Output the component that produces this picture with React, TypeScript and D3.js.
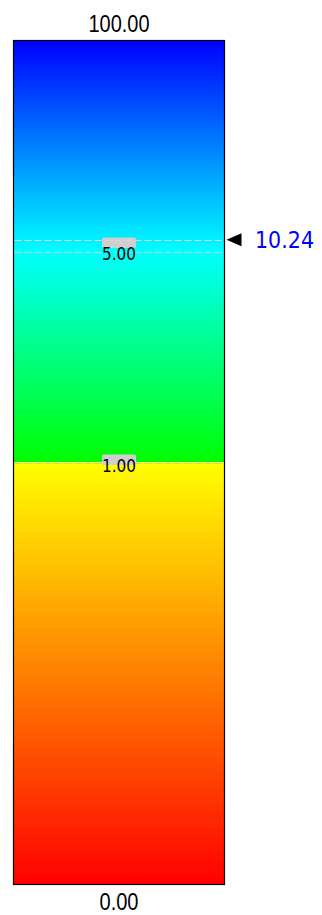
import React, { useEffect, useRef } from 'react';
import * as d3 from 'd3';

// break points of the colour scale (value -> band position)
const thresholds = [0, 1, 5, 100];
const thresholdLabels = ['0.00', '1.00', '5.00', '100.00'];
// colour at the bottom / top of each band
const bandColors: [string, string][] = [
  ['#ff0000', '#ffff00'],
  ['#00ff00', '#00ffff'],
  ['#00ffff', '#0000ff'],
];
const markerValue = 10.24;
const markerLabel = '10.24';

const ColorBar: React.FC = () => {
  const ref = useRef<SVGSVGElement | null>(null);

  useEffect(() => {
    if (!ref.current) return;
    const svg = d3.select(ref.current);
    svg.selectAll('*').remove();

    const barX = 13.5;
    const barW = 211;
    const top = 40.5;
    const bottom = 884.5;

    // piecewise scale: 0-1 takes half the bar, 1-5 and 5-100 a quarter each
    const y = d3.scaleLinear()
      .domain(thresholds)
      .range([bottom, d3.interpolateNumber(bottom, top)(0.5), d3.interpolateNumber(bottom, top)(0.75), top]);

    const defs = svg.append('defs');
    const grad = defs.append('linearGradient')
      .attr('id', 'barGrad')
      .attr('gradientUnits', 'userSpaceOnUse')
      .attr('x1', 0).attr('x2', 0)
      .attr('y1', bottom).attr('y2', top);

    bandColors.forEach((c, i) => {
      const o0 = (bottom - y(thresholds[i])) / (bottom - top);
      const o1 = (bottom - y(thresholds[i + 1])) / (bottom - top);
      grad.append('stop').attr('offset', o0).attr('stop-color', c[0]);
      grad.append('stop').attr('offset', o1).attr('stop-color', c[1]);
    });

    svg.append('rect')
      .attr('x', barX).attr('y', top)
      .attr('width', barW).attr('height', bottom - top)
      .attr('fill', 'url(#barGrad)')
      .attr('stroke', '#000')
      .attr('stroke-width', 1.2);

    // inner threshold lines + labels
    const inner = thresholds.slice(1, -1);
    svg.selectAll('.thr')
      .data(inner)
      .enter().append('line')
      .attr('x1', barX + 1).attr('x2', barX + barW - 1)
      .attr('y1', d => Math.round(y(d)) + 0.5).attr('y2', d => Math.round(y(d)) + 0.5)
      .attr('stroke', '#cccccc')
      .attr('stroke-dasharray', '7,3');

    const cx = barX + barW / 2;
    inner.forEach((v, i) => {
      const yy = y(v);
      const boxTop = i === 0 ? yy - 8 : yy - 14;
      const base = i === 0 ? yy + 9 : yy + 8;
      svg.append('rect')
        .attr('x', cx - 17).attr('y', boxTop)
        .attr('width', 34).attr('height', 10.5)
        .attr('rx', 2)
        .attr('fill', '#cfcfcf');
      svg.append('text')
        .attr('x', cx).attr('y', base)
        .attr('text-anchor', 'middle')
        .attr('font-family', "'DejaVu Sans', sans-serif")
        .attr('font-size', 18)
        .attr('textLength', 34)
        .attr('lengthAdjust', 'spacingAndGlyphs')
        .attr('fill', '#000')
        .text(thresholdLabels[i + 1]);
    });

    // end labels
    svg.append('text')
      .attr('x', cx).attr('y', 32)
      .attr('text-anchor', 'middle')
      .attr('font-family', "'Liberation Sans', Arial, sans-serif")
      .attr('font-size', 23)
      .attr('textLength', 61)
      .attr('lengthAdjust', 'spacingAndGlyphs')
      .text(thresholdLabels[thresholdLabels.length - 1]);
    svg.append('text')
      .attr('x', cx).attr('y', 910)
      .attr('text-anchor', 'middle')
      .attr('font-family', "'Liberation Sans', Arial, sans-serif")
      .attr('font-size', 23)
      .attr('textLength', 39)
      .attr('lengthAdjust', 'spacingAndGlyphs')
      .text(thresholdLabels[0]);

    // current value marker
    const my = y(markerValue);
    svg.append('line')
      .attr('x1', barX + 1).attr('x2', barX + barW - 1)
      .attr('y1', Math.round(my) + 0.5).attr('y2', Math.round(my) + 0.5)
      .attr('stroke', '#d8d8d8')
      .attr('stroke-dasharray', '7,3');
    const tipX = barX + barW + 2;
    svg.append('path')
      .attr('d', `M${tipX},${my} L${tipX + 15},${my - 6.5} L${tipX + 15},${my + 6.5} Z`)
      .attr('fill', '#000');
    svg.append('text')
      .attr('x', 255).attr('y', my + 8.5)
      .attr('font-family', "'DejaVu Sans', sans-serif")
      .attr('font-size', 23)
      .attr('textLength', 59)
      .attr('lengthAdjust', 'spacingAndGlyphs')
      .attr('fill', '#0000ff')
      .text(markerLabel);
  }, []);

  return (
    <svg
      ref={ref}
      width={322}
      height={915}
      style={{ position: 'absolute', left: 0, top: 0, background: '#fff' }}
    />
  );
};

export default function App() {
  return <ColorBar />;
}
